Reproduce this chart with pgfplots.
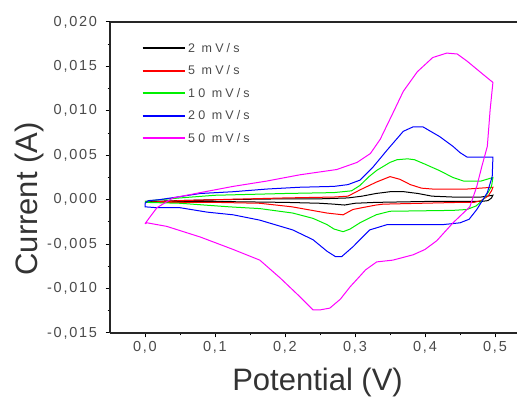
\documentclass[border=0pt]{standalone}
\usepackage{fontspec}
\setmainfont{Liberation Sans}
\newfontfamily\tickfont[LetterSpace=12]{Liberation Sans}
\newfontfamily\legfont[LetterSpace=25]{Liberation Sans}
\usepackage{pgfplots}
\pgfplotsset{compat=1.18}
\definecolor{tickgray}{HTML}{4A4A4A}
\definecolor{labgray}{HTML}{333333}
\definecolor{cvblack}{RGB}{0,0,0}
\definecolor{cvred}{RGB}{255,0,0}
\definecolor{cvgreen}{RGB}{0,240,0}
\definecolor{cvblue}{RGB}{0,0,255}
\definecolor{cvmag}{RGB}{255,0,255}
\begin{document}
\begin{tikzpicture}
\path[use as bounding box] (0,0) rectangle (517pt,398pt);
\begin{axis}[
  at={(110pt,65pt)}, anchor=south west,
  scale only axis, width=407pt, height=311pt,
  xmin=-0.05, xmax=0.5314, ymin=-0.015, ymax=0.020,
  axis x line*=box, axis y line*=left,
  xtick pos=left, ytick pos=left,
  tick align=outside,
  xtick={0,0.1,0.2,0.3,0.4,0.5},
  ytick={-0.015,-0.010,-0.005,0,0.005,0.010,0.015,0.020},
  minor x tick num=1, minor y tick num=1,
  major tick length=4.5pt, minor tick length=2.5pt,
  every tick/.style={line width=1pt, black},
  axis line style={line width=1.4pt, draw=black!85},
  scaled x ticks=false, scaled y ticks=false,
  /pgf/number format/assume math mode=true,
  xticklabel style={/pgf/number format/.cd, fixed, fixed zerofill, precision=1, use comma},
  yticklabel style={xshift=-5pt, /pgf/number format/.cd, fixed, fixed zerofill, precision=3, use comma},
  tick label style={font=\tickfont\fontsize{14.5}{16}\selectfont, text=tickgray},
  xlabel={Potential (V)}, ylabel={Current (A)},
  xlabel style={at={(axis description cs:0.51,-0.158)}, anchor=center, font=\fontsize{31}{34}\selectfont, text=labgray},
  ylabel style={at={(axis description cs:-0.199,0.431)}, anchor=center, font=\fontsize{31}{34}\selectfont, text=labgray},
  legend style={at={(rel axis cs:0.07,0.942)}, anchor=north west, draw=none, fill=none,
    font=\legfont\fontsize{12.5}{13}\selectfont, text=tickgray,
    row sep=9pt, nodes={text height=9pt, text depth=2.5pt, inner ysep=1pt, inner xsep=2.5pt}},
  legend cell align=left,
  legend image code/.code={\draw[#1, line width=2pt] (0pt,0.5pt) -- (42pt,0.5pt);},
]
% 2 mV/s
\addplot[cvblack, line width=1pt] coordinates {
(0,-0.0002) (0.05,-0.0001) (0.1,0.0) (0.2,0.0001) (0.25,0.0001) (0.29,0.0002) (0.31,0.0004) (0.33,0.0007) (0.35,0.0009) (0.37,0.0009) (0.39,0.0007) (0.41,0.0004) (0.44,0.0003) (0.48,0.0003) (0.497,0.0005)
(0.495,0.0002) (0.49,-0.0001) (0.48,-0.0002) (0.45,-0.0002) (0.40,-0.0002) (0.33,-0.0003) (0.30,-0.0004) (0.285,-0.0006) (0.27,-0.0005) (0.25,-0.0004) (0.2,-0.0003) (0.1,-0.0002) (0,-0.0002)
};
\addlegendentry{2 mV/s}
% 5 mV/s
\addplot[cvred, line width=1pt] coordinates {
(0,-0.0003) (0.05,-0.0001) (0.1,0.0) (0.2,0.0002) (0.27,0.0003) (0.29,0.0004) (0.307,0.0011) (0.331,0.0020) (0.35,0.0026) (0.364,0.0023) (0.379,0.0017) (0.395,0.0013) (0.411,0.0012) (0.46,0.0012) (0.497,0.0014)
(0.495,0.0010) (0.49,0.0004) (0.48,-0.0001) (0.47,-0.0003) (0.45,-0.0003) (0.34,-0.0005) (0.33,-0.0006) (0.31,-0.0009) (0.297,-0.0011) (0.283,-0.0017) (0.26,-0.0015) (0.21,-0.0008) (0.164,-0.0004) (0.1,-0.0003) (0,-0.0003)
};
\addlegendentry{5 mV/s}
% 10 mV/s
\addplot[cvgreen, line width=1pt] coordinates {
(0,-0.0002) (0.02,0.0000) (0.05,0.0002) (0.1,0.0005) (0.2,0.0007) (0.27,0.0008) (0.295,0.0010) (0.307,0.0016) (0.32,0.0026) (0.331,0.0033) (0.35,0.0042) (0.36,0.0045) (0.375,0.0046) (0.385,0.0045) (0.40,0.0040) (0.42,0.0033) (0.44,0.0025) (0.455,0.0021) (0.48,0.0021) (0.497,0.0025)
(0.495,0.0015) (0.49,0.0008) (0.483,0.0) (0.473,-0.0007) (0.46,-0.0011) (0.44,-0.0012) (0.35,-0.0013) (0.33,-0.0017) (0.307,-0.0026) (0.293,-0.0033) (0.283,-0.0036) (0.27,-0.0033) (0.26,-0.0028) (0.24,-0.0021) (0.211,-0.0015) (0.164,-0.0010) (0.12,-0.0008) (0.05,-0.0004) (0,-0.0003)
};
\addlegendentry{10 mV/s}
% 20 mV/s
\addplot[cvblue, line width=1pt] coordinates {
(0,-0.0004) (0.005,-0.0001) (0.02,0.0000) (0.046,0.0003) (0.079,0.0007) (0.126,0.0009) (0.174,0.0012) (0.22,0.0014) (0.27,0.0015) (0.29,0.0017) (0.307,0.0022) (0.326,0.0037) (0.346,0.0056) (0.369,0.0077) (0.383,0.0082) (0.397,0.0082) (0.421,0.0071) (0.44,0.0060) (0.45,0.0053) (0.46,0.0048) (0.497,0.0048)
(0.496,0.0026) (0.489,0.0008) (0.474,-0.0011) (0.463,-0.0022) (0.45,-0.0026) (0.426,-0.0028) (0.346,-0.0028) (0.321,-0.0034) (0.297,-0.0053) (0.281,-0.0064) (0.272,-0.0064) (0.26,-0.0058) (0.24,-0.0045) (0.211,-0.0034) (0.164,-0.0023) (0.126,-0.0017) (0.089,-0.0014) (0.05,-0.0009) (0.017,-0.0009) (0,-0.0008) (0,-0.0004)
};
\addlegendentry{20 mV/s}
% 50 mV/s
\addplot[cvmag, line width=1pt] coordinates {
(0,-0.0027) (0.017,-0.0009) (0.04,0.0002) (0.079,0.0008) (0.126,0.0015) (0.174,0.0021) (0.221,0.0028) (0.274,0.0034) (0.303,0.0042) (0.322,0.0052) (0.336,0.0068) (0.352,0.0094) (0.369,0.0122) (0.389,0.0144) (0.411,0.0160) (0.431,0.0165) (0.446,0.0164) (0.46,0.0156) (0.483,0.0141) (0.497,0.0132)
(0.493,0.0101) (0.489,0.0060) (0.481,0.0037) (0.474,0.0015) (0.464,-0.0008) (0.44,-0.0026) (0.417,-0.0046) (0.40,-0.0056) (0.383,-0.0062) (0.354,-0.0068) (0.331,-0.0070) (0.315,-0.0079) (0.307,-0.0086) (0.293,-0.0098) (0.279,-0.0112) (0.264,-0.0122) (0.25,-0.0124) (0.24,-0.0124) (0.221,-0.0109) (0.193,-0.0088) (0.164,-0.0068) (0.126,-0.0056) (0.079,-0.0042) (0.031,-0.0030) (0.003,-0.0026) (0,-0.0027)
};
\addlegendentry{50 mV/s}
\end{axis}
\end{tikzpicture}
\end{document}
